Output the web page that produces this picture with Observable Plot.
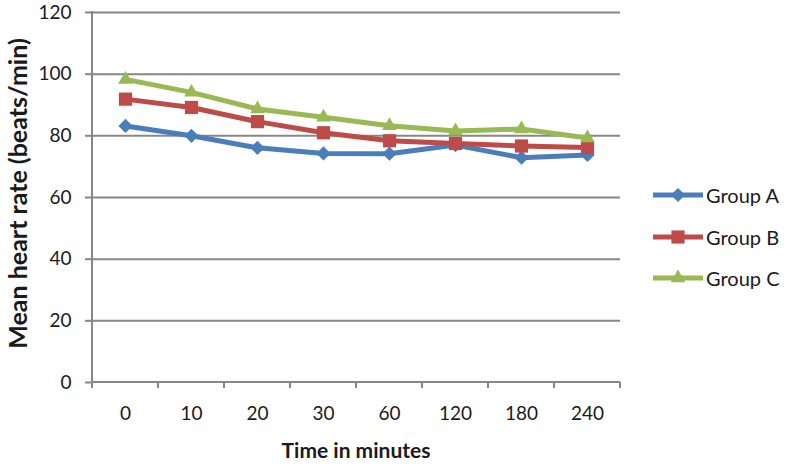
<!DOCTYPE html>
<html>
<head>
<meta charset="utf-8">
<script src="https://cdn.jsdelivr.net/npm/d3@7"></script>
<script src="https://cdn.jsdelivr.net/npm/@observablehq/plot@0.6"></script>
<style>
  html, body { margin: 0; padding: 0; background: #fff; }
  #wrap { position: relative; width: 791px; height: 464px; font-family: Lato, "Open Sans", sans-serif; }
  #legend { position: absolute; left: 653px; top: 0; }
  .lg-row { position: absolute; left: 0; width: 140px; height: 24px; display: flex; align-items: center; white-space: nowrap; }
  .lg-row span { font-size: 20px; color: #1a1a1a; margin-left: 3px; }
</style>
</head>
<body>
<div id="wrap"><div id="chart"></div><div id="legend"></div></div>
<script>
const times = ["0", "10", "20", "30", "60", "120", "180", "240"];
const groupNames = ["Group A", "Group B", "Group C"];
const groupA = [83.2, 80.0, 76.1, 74.3, 74.2, 77.0, 72.9, 73.8];
const groupB = [91.9, 89.2, 84.6, 81.0, 78.4, 77.5, 76.7, 76.2];
const groupC = [98.3, 94.1, 88.7, 86.0, 83.3, 81.6, 82.2, 79.3];
const yTicks = [0, 20, 40, 60, 80, 100, 120];
const xTitle = "Time in minutes";
const yTitle = "Mean heart rate (beats/min)";

const colors = ["#4a7ebb", "#be4b48", "#98b954"];
const symbols = ["diamond2", "square2", "triangle2"];
const radii = [6.4, 8.4, 7.0];

const seriesValues = [groupA, groupB, groupC];
const rows = [];
seriesValues.forEach((vals, gi) => vals.forEach((v, i) => rows.push({group: groupNames[gi], time: times[i], value: v})));

const gridColor = "#878787";

// axis lines and boundary ticks for the category axis (between categories, as in a spreadsheet chart)
function axisLines(index, scales, values, dims) {
  const x = scales.x, y = scales.y;
  const step = x(times[1]) - x(times[0]);
  const g = d3.create("svg:g");
  const y0 = y(0);
  const bounds = times.map(t => x(t) - step / 2).concat([x(times[times.length - 1]) + step / 2]);
  g.selectAll("line.tk").data(bounds).join("line")
    .attr("x1", d => d).attr("x2", d => d)
    .attr("y1", y0).attr("y2", y0 + 6)
    .attr("stroke", gridColor).attr("stroke-width", 2);
  g.append("line")
    .attr("x1", bounds[0]).attr("x2", bounds[bounds.length - 1])
    .attr("y1", y0).attr("y2", y0)
    .attr("stroke", gridColor).attr("stroke-width", 2);
  g.append("line")
    .attr("x1", bounds[0]).attr("x2", bounds[0])
    .attr("y1", y(yTicks[yTicks.length - 1]) - 1).attr("y2", y0 + 1)
    .attr("stroke", gridColor).attr("stroke-width", 2);
  return g.node();
}

const chart = Plot.plot({
  width: 791,
  height: 464,
  marginLeft: 91,
  marginRight: 171,
  marginTop: 12,
  marginBottom: 82,
  style: {fontFamily: "Lato, 'Open Sans', sans-serif", background: "#fff", color: "#1a1a1a"},
  x: {type: "point", domain: times, padding: 0.5, label: null},
  y: {domain: [0, 120], label: null},
  marks: [
    Plot.ruleY(yTicks.filter(d => d > 0), {stroke: gridColor, strokeWidth: 2, strokeOpacity: 1}),
    Plot.axisY(yTicks, {tickSize: 6, tickPadding: 14, fontSize: 19, stroke: gridColor, strokeWidth: 2, strokeOpacity: 1, label: null, fill: "#1a1a1a"}),
    axisLines,
    Plot.axisX(times, {tickSize: 0, tickPadding: 24, fontSize: 19, label: null, fill: "#1a1a1a"}),
    Plot.text([xTitle], {frameAnchor: "bottom", lineAnchor: "middle", dy: 69, fontSize: 21, fontWeight: "bold", fill: "#1a1a1a"}),
    Plot.text([yTitle], {frameAnchor: "left", textAnchor: "middle", lineAnchor: "middle", dx: -73, dy: -4, rotate: -90, fontSize: 25, fontWeight: "bold", fill: "#1a1a1a"}),
    ...groupNames.map((g, gi) => Plot.line(rows.filter(r => r.group === g), {x: "time", y: "value", stroke: colors[gi], strokeWidth: 5})),
    ...groupNames.map((g, gi) => Plot.dot(rows.filter(r => r.group === g), {x: "time", y: "value", symbol: () => symbols[gi], fill: colors[gi], stroke: "none", r: radii[gi]}))
  ]
});
document.getElementById("chart").appendChild(chart);

// legend
const legend = d3.select("#legend");
groupNames.forEach((g, gi) => {
  const row = legend.append("div").attr("class", "lg-row").style("top", (183 + gi * 41.5) + "px");
  const s = row.append("svg").attr("width", 50).attr("height", 24);
  s.append("line").attr("x1", 0).attr("x2", 50).attr("y1", 12).attr("y2", 12).attr("stroke", colors[gi]).attr("stroke-width", 5);
  const sym = d3.symbol().type([d3.symbolDiamond2, d3.symbolSquare2, d3.symbolTriangle2][gi]).size(Math.PI * radii[gi] * radii[gi]);
  s.append("path").attr("d", sym()).attr("transform", "translate(25,12)").attr("fill", colors[gi]);
  row.append("span").text(g);
});
</script>
</body>
</html>
